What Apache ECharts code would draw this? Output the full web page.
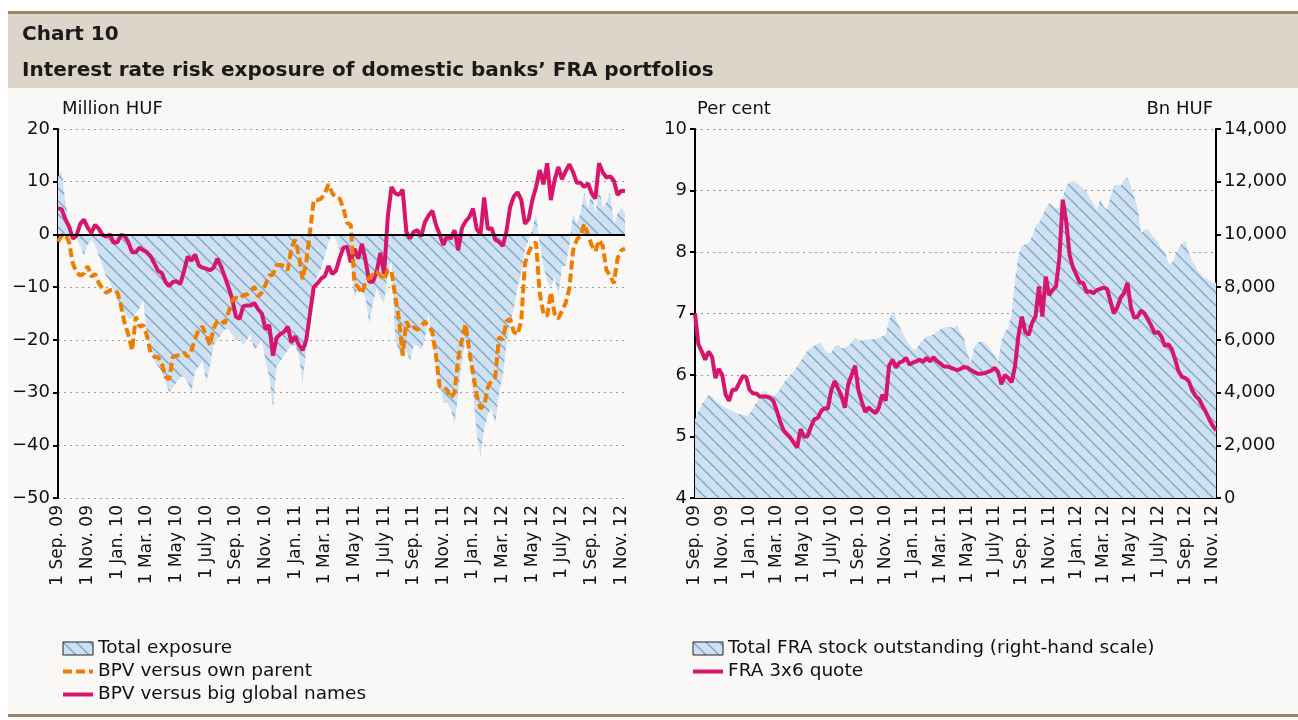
<!DOCTYPE html>
<html>
<head>
<meta charset="utf-8">
<title>Chart 10</title>
<script src="https://cdn.jsdelivr.net/npm/echarts@6.0.0/dist/echarts.min.js"></script>
<style>
  html, body { margin: 0; padding: 0; background: #fff; }
  #frame { position: relative; width: 1298px; height: 720px; overflow: hidden; }
  .band { position: absolute; left: 8px; right: 0; }
  #rule-top { top: 11px; height: 3px; background: #9a8466; }
  #head { top: 14px; height: 74px; background: #ddd5c9; }
  #body-bg { top: 88px; height: 626px; background: #f9f8f6; }
  #rule-bottom { top: 714px; height: 3px; background: #9a8466; }
  #chart { position: absolute; left: 0; top: 0; width: 1298px; height: 720px; }
</style>
</head>
<body>
<div id="frame">
  <div class="band" id="rule-top"></div>
  <div class="band" id="head"></div>
  <div class="band" id="body-bg"></div>
  <div class="band" id="rule-bottom"></div>
  <div id="chart"></div>
</div>
<script>
// readings every quarter month (1st, 8th, 16th, 23rd), 1 Sep. 09 - 8 Nov. 12
const tickLabels = ['1 Sep. 09', '1 Nov. 09', '1 Jan. 10', '1 Mar. 10', '1 May 10', '1 July 10',
  '1 Sep. 10', '1 Nov. 10', '1 Jan. 11', '1 Mar. 11', '1 May 11', '1 July 11', '1 Sep. 11',
  '1 Nov. 11', '1 Jan. 12', '1 Mar. 12', '1 May 12', '1 July 12', '1 Sep. 12', '1 Nov. 12']
const days = [1, 8, 16, 23]

// left panel, million HUF
const totalExposure = [11, 12, 6, 2.5, 0.5, -1, -2, -4, -2, -1,
  -2, -4, -6, -8, -9, -11, -12, -14, -15, -16,
  -16, -15, -14, -12.5, -19, -21, -24, -25, -26, -28,
  -30, -29, -28, -27, -27, -28, -30, -26, -25, -24,
  -28, -25, -21, -20, -19, -18, -18, -19, -20, -20,
  -21, -20, -19, -22, -21, -20, -24, -27, -33, -25,
  -24, -23, -22, -21, -21, -23, -28, -22, -17, -10,
  -8, -6.5, -4, -1.5, 0, -1, -3, -2, -2, -5,
  -12, -10, -11, -12, -17, -13, -10, -12, -13, -7,
  -5, -20, -22, -23, -22, -24, -21, -21, -22, -20,
  -15, -20, -25, -28, -32, -32, -33, -36, -30, -24,
  -20, -23, -30, -38, -42, -37, -34, -33, -36, -30,
  -27, -21, -17, -14, -10, -7, -3, -1, 1, 4,
  -2, -6, -9, -10, -8, -12, -6, -6, -2, 4,
  2, 4, 8, 5, 8, 4, 9, 5, 6, 8,
  2, 4, 5, 4]
const bpvParent = [-1.4, -0.2, 0, -1.5, -5.5, -7.2, -7.8, -7.4, -6, -8,
  -7.5, -9.2, -10.3, -11.1, -10.6, -10.5, -11, -13.5, -16.9, -19,
  -22, -15.6, -17.5, -17.2, -19.2, -22.5, -23.2, -23.3, -24.5, -27,
  -27.5, -23.2, -23, -22.9, -22.4, -23.2, -22, -19.8, -18, -17.5,
  -19.2, -21, -17.8, -16.4, -16.3, -16.9, -14.8, -12.5, -12, -12.2,
  -11.5, -11.4, -10.7, -9.9, -11.8, -11, -9.5, -7.8, -7.6, -5.8,
  -5.8, -6, -6.8, -2.5, -1, -4, -8.5, -5.2, 0.5, 6.5,
  6.5, 6.8, 7.8, 9.5, 7.8, 7, 6.8, 5, 2.2, 1.8,
  -9.3, -10, -11.2, -9, -8.2, -7.6, -7, -7.8, -8.6, -6.8,
  -7, -11.8, -16, -23, -16.5, -18, -17.6, -18.1, -17.5, -16.5,
  -17.5, -18.5, -23, -28.9, -28.9, -29.5, -31, -30, -23.5, -20,
  -17, -22.3, -26.4, -30.5, -33, -32.5, -29, -27.7, -27, -19.5,
  -20, -16.5, -16, -18.5, -19, -16.5, -5.5, -3.4, -2, -1.5,
  -11.2, -15, -15.5, -11, -15, -16, -14.5, -13, -10.2, -3,
  -1, -0.2, 2, 0, -2, -3.2, -1.1, -2.2, -6.8, -7.8,
  -9.3, -4.5, -3, -2.7]
const bpvGlobal = [4.9, 4.8, 2.8, 1.5, -0.8, -0.2, 2, 2.8, 1.3, 0.3,
  1.8, 1.1, -0.1, -0.4, 0, -1.6, -1.5, -0.1, -0.3, -1.5,
  -3.4, -3.4, -2.5, -3, -3.4, -4.2, -5.5, -6.9, -7.3, -9,
  -9.8, -9, -8.9, -9.4, -7, -4.2, -5, -3.8, -5.9, -6.3,
  -6.5, -6.8, -6.3, -4.6, -6.1, -8, -10, -12.2, -15.6, -16,
  -13.6, -13.5, -13.5, -13, -14.2, -15, -18, -17.2, -23, -19.6,
  -18.9, -18.5, -17.5, -20.5, -19.3, -21, -22, -20, -15, -10,
  -9.3, -8.4, -7.9, -6, -7.5, -6.9, -4.5, -2.5, -2.3, -5.3,
  -2.7, -4.6, -1.8, -5, -9, -9, -7, -3.5, -7.5, 3.4,
  9, 7.8, 7.5, 8.5, 0.5, -0.8, 0.5, 0.8, -0.4, 2.3,
  3.6, 4.5, 1.8, 0, -2, -0.3, -0.8, 0.8, -3, 1.2,
  2.5, 3.3, 4.9, 1, 0, 7, 1, 1.2, -1, -1.4,
  -2.2, 0.5, 5.2, 7.2, 8, 6.6, 2, 2.9, 6.5, 9,
  12.2, 9.5, 13.5, 6.5, 10.3, 12.8, 10.5, 12, 13.3, 11.8,
  9.8, 9.8, 9, 9.7, 7.8, 6.8, 13.5, 11.8, 10.8, 11,
  10.2, 7.5, 8.3, 8.2]

// right panel: FRA quote in per cent, stock in bn HUF
const fraQuote = [7.0, 6.5, 6.38, 6.25, 6.38, 6.3, 5.95, 6.1, 6.0, 5.68,
  5.58, 5.76, 5.76, 5.87, 5.98, 5.97, 5.76, 5.7, 5.7, 5.65,
  5.65, 5.65, 5.63, 5.58, 5.42, 5.24, 5.1, 5.04, 4.98, 4.9,
  4.82, 5.12, 5.0, 5.0, 5.15, 5.28, 5.3, 5.41, 5.46, 5.45,
  5.75, 5.9, 5.78, 5.66, 5.47, 5.85, 6.0, 6.15, 5.75, 5.56,
  5.4, 5.47, 5.42, 5.38, 5.47, 5.68, 5.58, 6.15, 6.25, 6.12,
  6.2, 6.22, 6.28, 6.17, 6.2, 6.22, 6.25, 6.21, 6.28, 6.22,
  6.29, 6.23, 6.19, 6.14, 6.14, 6.12, 6.1, 6.08, 6.1, 6.13,
  6.12, 6.08, 6.05, 6.02, 6.02, 6.03, 6.05, 6.07, 6.12, 6.05,
  5.85, 6.0, 5.95, 5.88, 6.15, 6.65, 6.95, 6.7, 6.65, 6.85,
  6.95, 7.44, 6.95, 7.6, 7.3, 7.38, 7.44, 7.9, 8.85, 8.5,
  7.95, 7.75, 7.63, 7.5, 7.5, 7.35, 7.36, 7.33, 7.38, 7.4,
  7.42, 7.4, 7.2, 7.0, 7.1, 7.26, 7.33, 7.5, 7.1, 6.93,
  6.95, 7.05, 7.0, 6.9, 6.8, 6.68, 6.7, 6.62, 6.47, 6.5,
  6.42, 6.25, 6.06, 5.97, 5.95, 5.9, 5.75, 5.66, 5.61, 5.5,
  5.4, 5.28, 5.18, 5.1]
const fraStock = [2970, 3300, 3550, 3760, 3920, 3850, 3700, 3600, 3480, 3420,
  3350, 3290, 3220, 3180, 3160, 3120, 3180, 3400, 3620, 3820,
  4050, 4050, 3920, 3870, 3950, 4150, 4350, 4520, 4680, 4800,
  5000, 5180, 5400, 5580, 5700, 5780, 5850, 5880, 5620, 5500,
  5500, 5750, 5800, 5680, 5680, 5780, 5900, 6100, 5980, 5980,
  6010, 6010, 6010, 6040, 6070, 6130, 6200, 6760, 7100, 6800,
  6510, 6250, 6010, 5800, 5630, 5630, 5880, 6000, 6130, 6160,
  6200, 6300, 6390, 6450, 6510, 6480, 6450, 6580, 6250, 6050,
  5500, 5100, 5750, 5900, 5940, 5900, 5750, 5600, 5440, 5150,
  5950, 6300, 6450, 7000, 8300, 9200, 9580, 9620, 9680, 9900,
  10300, 10450, 10700, 10980, 11180, 11100, 10980, 11000, 11400, 11830,
  12000, 12030, 11950, 11850, 11750, 11600, 11360, 11180, 10900, 11350,
  11050, 10950, 11400, 11850, 11890, 11850, 12100, 12150, 11850, 11400,
  11000, 10050, 10180, 10200, 10000, 9860, 9700, 9450, 9350, 8900,
  8900, 9200, 9500, 9650, 9750, 9300, 9000, 8780, 8550, 8420,
  8350, 8250, 8160, 8180]

const categories = []
for (let m = 0; m < 38; m++) {
  const d = new Date(2009, 8 + m, 1)
  const ym = d.getFullYear() + '-' + String(d.getMonth() + 1).padStart(2, '0')
  days.forEach(day => categories.push(ym + '-' + String(day).padStart(2, '0')))
}
categories.push('2012-11-01', '2012-11-08')

const FONT = 'DejaVu Sans'
const MAGENTA = '#d6156b'
const ORANGE = '#ee7d00'

// blue fill with thin diagonal hatching
function makeHatch() {
  const c = document.createElement('canvas')
  c.width = 13
  c.height = 13
  const ctx = c.getContext('2d')
  ctx.fillStyle = '#cfe1f1'
  ctx.fillRect(0, 0, 13, 13)
  ctx.strokeStyle = '#7aa7d0'
  ctx.lineWidth = 1.4
  ;[-13, 0, 13].forEach(o => {
    ctx.beginPath()
    ctx.moveTo(o, 0)
    ctx.lineTo(o + 13, 13)
    ctx.stroke()
  })
  return c
}
const hatch = { image: makeHatch(), repeat: 'repeat' }

const minus = v => (v < 0 ? '\u2212' + (-v) : String(v))
const thousands = v => v.toLocaleString('en-US')

function xAxisOf(gridIndex, showLine) {
  return {
    type: 'category',
    gridIndex: gridIndex,
    data: categories,
    boundaryGap: false,
    axisLine: { show: showLine, onZero: false, lineStyle: { color: '#000', width: 2 } },
    axisTick: { show: false },
    splitLine: { show: false },
    axisLabel: {
      interval: 7,
      rotate: 90,
      margin: 7,
      fontFamily: FONT,
      fontSize: 17,
      color: '#111',
      formatter: (v, i) => tickLabels[i / 8] || ''
    }
  }
}

function yAxisOf(gridIndex, opts) {
  return Object.assign({
    type: 'value',
    gridIndex: gridIndex,
    axisLine: { show: true, lineStyle: { color: '#000', width: 2 } },
    axisTick: { show: true, length: 5, lineStyle: { color: '#000', width: 2 } },
    axisLabel: { fontFamily: FONT, fontSize: 18, color: '#111', margin: 8 },
    splitLine: { show: true, lineStyle: { color: '#9a9a9a', width: 1, type: [2, 4] } }
  }, opts)
}

const legendText = { fontFamily: FONT, fontSize: 18.5, color: '#111' }
const boxIcon = { color: hatch, borderColor: '#222', borderWidth: 1 }
const noDot = { opacity: 0 }

const myChart = echarts.init(document.getElementById('chart'))
myChart.setOption({
  animation: false,
  title: [
    { text: 'Chart 10', left: 17, top: 20, textStyle: { fontFamily: FONT, fontSize: 20, fontWeight: 'bold', color: '#1a1a1a' } },
    { text: 'Interest rate risk exposure of domestic banks\u2019 FRA portfolios', left: 17, top: 56,
      textStyle: { fontFamily: FONT, fontSize: 20, fontWeight: 'bold', color: '#1a1a1a' } }
  ],
  graphic: [
    { type: 'text', left: 62, top: 100, style: { text: 'Million HUF', font: '18px "DejaVu Sans"', fill: '#111' } },
    { type: 'text', left: 697, top: 100, style: { text: 'Per cent', font: '18px "DejaVu Sans"', fill: '#111' } },
    { type: 'text', right: 85, top: 100, style: { text: 'Bn HUF', font: '18px "DejaVu Sans"', fill: '#111' } }
  ],
  grid: [
    { left: 58, top: 129, width: 567, height: 369 },
    { left: 695, top: 129, width: 521, height: 369 }
  ],
  legend: [
    {
      left: 56, top: 634, orient: 'vertical', itemGap: 4, itemWidth: 30, itemHeight: 13,
      selectedMode: false, textStyle: legendText,
      data: [
        { name: 'Total exposure', icon: 'rect', itemStyle: boxIcon },
        { name: 'BPV versus own parent', itemStyle: noDot, lineStyle: { width: 4 } },
        { name: 'BPV versus big global names', itemStyle: noDot, lineStyle: { width: 4 } }
      ]
    },
    {
      left: 686, top: 634, orient: 'vertical', itemGap: 4, itemWidth: 30, itemHeight: 13,
      selectedMode: false, textStyle: legendText,
      data: [
        { name: 'Total FRA stock outstanding (right-hand scale)', icon: 'rect', itemStyle: boxIcon },
        { name: 'FRA 3x6 quote', itemStyle: noDot, lineStyle: { width: 4 } }
      ]
    }
  ],
  xAxis: [xAxisOf(0, false), xAxisOf(1, true)],
  yAxis: [
    yAxisOf(0, { min: -50, max: 20, interval: 10, axisLabel: { fontFamily: FONT, fontSize: 18, color: '#111', margin: 8, formatter: minus } }),
    yAxisOf(1, { min: 4, max: 10, interval: 1 }),
    yAxisOf(1, {
      position: 'right', min: 0, max: 14000, interval: 2000,
      splitLine: { show: false },
      axisLabel: { fontFamily: FONT, fontSize: 18, color: '#111', margin: 8, formatter: thousands }
    })
  ],
  series: [
    {
      name: 'Total exposure',
      type: 'line',
      xAxisIndex: 0,
      yAxisIndex: 0,
      data: totalExposure,
      symbol: 'none',
      itemStyle: { color: '#cfe1f1' },
      lineStyle: { width: 0 },
      areaStyle: { color: hatch, opacity: 1 },
      markLine: {
        silent: true,
        symbol: ['none', 'none'],
        label: { show: false },
        lineStyle: { color: '#000', width: 2, type: 'solid' },
        data: [{ yAxis: 0 }]
      }
    },
    {
      name: 'BPV versus big global names',
      type: 'line',
      xAxisIndex: 0,
      yAxisIndex: 0,
      data: bpvGlobal,
      symbol: 'none',
      itemStyle: { color: MAGENTA },
      lineStyle: { color: MAGENTA, width: 4 }
    },
    {
      name: 'BPV versus own parent',
      type: 'line',
      xAxisIndex: 0,
      yAxisIndex: 0,
      data: bpvParent,
      symbol: 'none',
      itemStyle: { color: ORANGE },
      lineStyle: { color: ORANGE, width: 4, type: [9, 4] }
    },
    {
      name: 'Total FRA stock outstanding (right-hand scale)',
      type: 'line',
      xAxisIndex: 1,
      yAxisIndex: 2,
      data: fraStock,
      symbol: 'none',
      itemStyle: { color: '#cfe1f1' },
      lineStyle: { width: 0 },
      areaStyle: { color: hatch, opacity: 1 }
    },
    {
      name: 'FRA 3x6 quote',
      type: 'line',
      xAxisIndex: 1,
      yAxisIndex: 1,
      data: fraQuote,
      symbol: 'none',
      itemStyle: { color: MAGENTA },
      lineStyle: { color: MAGENTA, width: 4 }
    }
  ]
})
</script>
</body>
</html>
